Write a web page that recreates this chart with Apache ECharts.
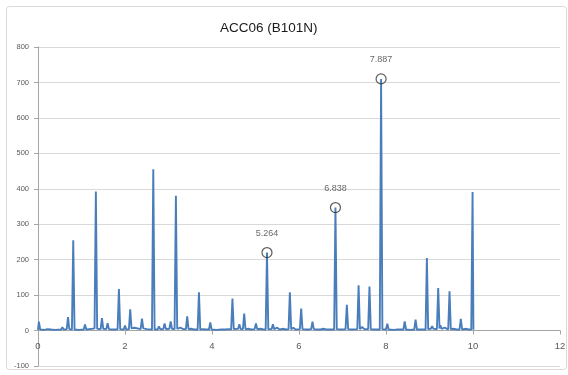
<!DOCTYPE html>
<html>
<head>
<meta charset="utf-8">
<style>
  html, body { margin: 0; padding: 0; background: #ffffff; }
  #chart { width: 568px; height: 375px; }
</style>
<script src="https://cdn.jsdelivr.net/npm/echarts@6/dist/echarts.min.js"></script>
</head>
<body>
<div id="chart"></div>
<script>
// Spectrum trace: positions and intensities, point by point
const positions = [
  0.00, 0.02, 0.05, 0.15, 0.22, 0.30, 0.40, 0.53, 0.56, 0.59,
  0.66, 0.69, 0.72, 0.78, 0.81, 0.84, 0.95, 1.05, 1.08, 1.11,
  1.18, 1.21, 1.25, 1.30, 1.33, 1.36, 1.44, 1.47, 1.50, 1.57,
  1.60, 1.63, 1.72, 1.75, 1.78, 1.83, 1.86, 1.89, 1.97, 2.00,
  2.03, 2.09, 2.12, 2.15, 2.22, 2.26, 2.36, 2.39, 2.42, 2.50,
  2.62, 2.65, 2.68, 2.75, 2.78, 2.81, 2.88, 2.91, 2.94, 3.02,
  3.05, 3.08, 3.14, 3.17, 3.20, 3.27, 3.30, 3.34, 3.40, 3.43,
  3.46, 3.52, 3.58, 3.67, 3.70, 3.73, 3.79, 3.82, 3.86, 3.93,
  3.96, 3.99, 4.10, 4.22, 4.25, 4.30, 4.38, 4.44, 4.47, 4.50,
  4.60, 4.63, 4.66, 4.71, 4.74, 4.77, 4.85, 4.90, 4.98, 5.01,
  5.04, 5.12, 5.18, 5.234, 5.264, 5.294, 5.37, 5.40, 5.43, 5.50,
  5.55, 5.65, 5.70, 5.76, 5.79, 5.82, 5.87, 5.92, 6.02, 6.05,
  6.08, 6.20, 6.28, 6.31, 6.34, 6.42, 6.45, 6.50, 6.56, 6.62,
  6.72, 6.808, 6.838, 6.868, 6.98, 7.07, 7.10, 7.13, 7.22, 7.34,
  7.37, 7.40, 7.45, 7.50, 7.59, 7.62, 7.65, 7.75, 7.857, 7.887,
  7.917, 8.00, 8.03, 8.06, 8.18, 8.27, 8.30, 8.33, 8.40, 8.43,
  8.46, 8.56, 8.65, 8.68, 8.71, 8.82, 8.91, 8.94, 8.97, 9.03,
  9.06, 9.09, 9.17, 9.20, 9.23, 9.25, 9.28, 9.35, 9.39, 9.43,
  9.46, 9.49, 9.55, 9.62, 9.69, 9.72, 9.75, 9.85, 9.90, 9.96,
  9.99, 10.01
];
const intensities = [
  2, 25, 3, 2, 4, 3, 2, 3, 9, 3,
  4, 38, 4, 3, 255, 3, 2, 3, 17, 3,
  4, 7, 5, 6, 392, 5, 4, 35, 5, 4,
  21, 4, 3, 8, 3, 4, 117, 4, 3, 14,
  3, 4, 60, 6, 8, 3, 4, 34, 6, 4,
  3, 455, 3, 3, 12, 4, 4, 20, 4, 5,
  26, 5, 4, 380, 5, 8, 13, 4, 4, 40,
  4, 5, 3, 3, 108, 3, 4, 9, 3, 3,
  23, 3, 2, 3, 6, 3, 4, 3, 90, 4,
  5, 18, 4, 4, 48, 4, 5, 3, 4, 20,
  4, 5, 3, 3, 220, 4, 4, 18, 4, 8,
  3, 5, 3, 4, 108, 4, 8, 3, 4, 62,
  4, 3, 4, 25, 4, 3, 8, 3, 5, 3,
  3, 3, 347, 4, 3, 4, 73, 4, 3, 4,
  128, 4, 10, 4, 4, 124, 4, 3, 3, 710,
  4, 3, 19, 3, 2, 3, 8, 3, 3, 26,
  3, 2, 3, 31, 3, 3, 3, 205, 4, 5,
  12, 5, 4, 120, 6, 15, 5, 8, 4, 3,
  111, 4, 5, 3, 3, 33, 3, 5, 3, 3,
  391, 2
];

// Annotated peaks (circled and labelled with their position)
const markedPositions = [5.264, 6.838, 7.887];
const markedIntensities = [220, 347, 710];

// Axis ranges and steps
const xTicks = { min: 0, max: 12, step: 2 };
const yTicks = { min: -100, max: 800, step: 100 };

const trace = positions.map((x, i) => [x, intensities[i]]);
const marked = markedPositions.map((x, i) => [x, markedIntensities[i]]);

const gridBox = { left: 38, right: 8, top: 47, bottom: 9 };
const chartHeight = 375;
// Lift the x axis (line, ticks and labels) from the grid bottom up to y = 0
const plotHeight = chartHeight - gridBox.top - gridBox.bottom;
const zeroLift = plotHeight * (0 - yTicks.min) / (yTicks.max - yTicks.min);

const chart = echarts.init(document.getElementById('chart'), null, { renderer: 'canvas' });

const labelFont = '"Liberation Sans", Arial, sans-serif';

chart.setOption({
  animation: false,
  backgroundColor: '#ffffff',
  graphic: [{
    type: 'rect',
    shape: { x: 6.5, y: 6.5, width: 560, height: 363, r: 3 },
    style: { fill: 'none', stroke: '#d9d9d9', lineWidth: 1 },
    silent: true,
    z: -10
  }],
  title: {
    text: 'ACC06 (B101N)',
    left: 215,
    top: 16,
    textStyle: {
      fontFamily: labelFont,
      fontSize: 13.5,
      fontWeight: 'normal',
      color: '#1a1a1a'
    }
  },
  grid: {
    left: gridBox.left, right: gridBox.right, top: gridBox.top, bottom: gridBox.bottom,
    containLabel: false,
    outerBoundsMode: 'none'
  },
  xAxis: {
    type: 'value',
    position: 'bottom',
    offset: -zeroLift,
    min: xTicks.min,
    max: xTicks.max,
    interval: xTicks.step,
    axisLine: { onZero: false, lineStyle: { color: '#a6a6a6', width: 1 } },
    axisTick: { show: true, inside: false, length: 4, lineStyle: { color: '#a6a6a6' } },
    axisLabel: { margin: 11, fontFamily: labelFont, fontSize: 9.5, color: '#595959' },
    splitLine: { show: false }
  },
  yAxis: {
    type: 'value',
    min: yTicks.min,
    max: yTicks.max,
    interval: yTicks.step,
    axisLine: { show: true, lineStyle: { color: '#a6a6a6', width: 1 } },
    axisTick: { show: true, inside: false, length: 4, lineStyle: { color: '#a6a6a6' } },
    axisLabel: { margin: 9, fontFamily: labelFont, fontSize: 7.5, color: '#595959' },
    splitLine: { show: true, lineStyle: { color: '#d9d9d9', width: 1 } }
  },
  series: [
    {
      type: 'line',
      data: trace,
      showSymbol: false,
      symbol: 'none',
      lineStyle: { color: '#4a7ebb', width: 1.9 },
      z: 2
    },
    {
      type: 'scatter',
      data: marked,
      symbol: 'circle',
      symbolSize: 10,
      itemStyle: { color: 'rgba(0,0,0,0)', borderColor: '#333333', borderWidth: 1.2 },
      label: {
        show: true,
        position: 'top',
        distance: 9,
        formatter: p => p.value[0].toFixed(3),
        fontFamily: labelFont,
        fontSize: 9,
        color: '#404040'
      },
      z: 3
    }
  ]
});
</script>
</body>
</html>
